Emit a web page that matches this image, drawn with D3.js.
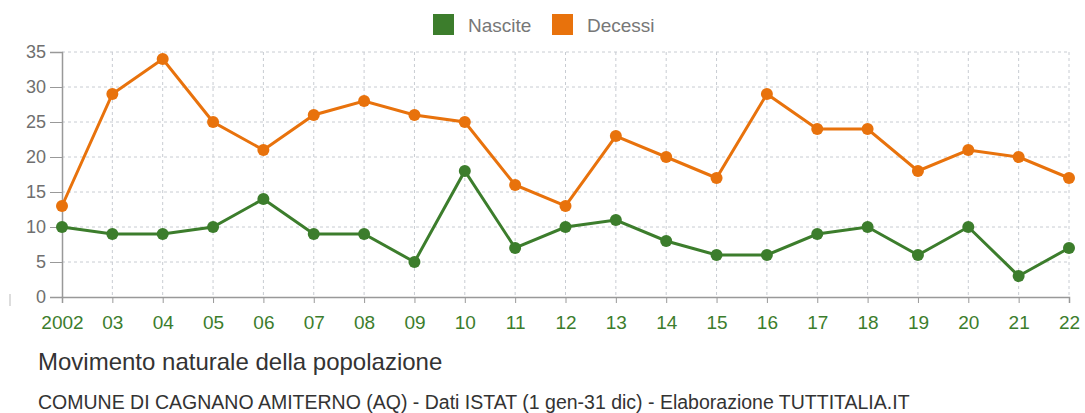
<!DOCTYPE html>
<html>
<head>
<meta charset="utf-8">
<script src="https://cdn.jsdelivr.net/npm/d3@7"></script>
<style>
  body { margin: 0; background: #fff; font-family: "Liberation Sans", Arial, sans-serif; }
</style>
</head>
<body>
<div id="chart"></div>
<script>
// Data
var years = ["2002", "03", "04", "05", "06", "07", "08", "09", "10", "11", "12",
    "13", "14", "15", "16", "17", "18", "19", "20", "21", "22"];
var nascite = [10, 9, 9, 10, 14, 9, 9, 5, 18, 7, 10, 11, 8, 6, 6, 9, 10, 6, 10, 3, 7];
var decessi = [13, 29, 34, 25, 21, 26, 28, 26, 25, 16, 13, 23, 20, 17, 29, 24, 24, 18, 21, 20, 17];
var yTicks = [0, 5, 10, 15, 20, 25, 30, 35];
var seriesNames = ["Nascite", "Decessi"];
var seriesColors = ["#3c7d2c", "#e8720c"];

var W = 1085, H = 413;
var margin = {top: 52, right: 16, bottom: 116, left: 62},
    width = W - margin.left - margin.right,
    height = H - margin.top - margin.bottom;

var svg = d3.select("#chart").append("svg")
    .attr("width", W)
    .attr("height", H);

var g = svg.append("g")
    .attr("transform", `translate(${margin.left},${margin.top})`);

var x = d3.scalePoint()
    .domain(years)
    .range([0, width]);

var y = d3.scaleLinear()
    .domain([0, 35])
    .range([height, 0]);

// Grid
g.append("g")
    .selectAll("line")
    .data(yTicks.filter(d => d > 0))
    .join("line")
    .attr("x1", 0)
    .attr("x2", width)
    .attr("y1", d => y(d))
    .attr("y2", d => y(d))
    .attr("stroke", "#c8ccd2")
    .attr("stroke-dasharray", "3,3");

g.append("g")
    .selectAll("line")
    .data(years.slice(1))
    .join("line")
    .attr("x1", d => x(d))
    .attr("x2", d => x(d))
    .attr("y1", 0)
    .attr("y2", height)
    .attr("stroke", "#c8ccd2")
    .attr("stroke-dasharray", "3,3");

// Y axis
var yAxis = g.append("g")
    .call(d3.axisLeft(y).tickValues(yTicks).tickSize(12).tickPadding(4));
yAxis.select(".domain").attr("stroke", "#999").attr("stroke-width", 1.5);
yAxis.selectAll(".tick line").attr("stroke", "#999");
yAxis.selectAll("text")
    .style("fill", "#6f6f6f")
    .style("font-size", "18px")
    .style("font-family", "Liberation Sans, Arial, sans-serif");

// X axis
var xAxis = g.append("g")
    .attr("transform", `translate(0,${height})`)
    .call(d3.axisBottom(x).tickSize(6).tickPadding(13));
xAxis.select(".domain").attr("stroke", "#999").attr("stroke-width", 1.5);
xAxis.selectAll(".tick line").attr("stroke", "#999");
xAxis.selectAll("text")
    .style("fill", "#3c7d2c")
    .style("font-size", "19px")
    .style("font-family", "Liberation Sans, Arial, sans-serif");

// small stray mark at the left, as in the original
svg.append("line")
    .attr("x1", 10).attr("x2", 10)
    .attr("y1", 294).attr("y2", 306)
    .attr("stroke", "#bbb");

// Lines
var series = [nascite, decessi];
series.forEach(function (vals, i) {
    var line = d3.line()
        .x((d, j) => x(years[j]))
        .y(d => y(d));

    g.append("path")
        .datum(vals)
        .attr("fill", "none")
        .attr("stroke", seriesColors[i])
        .attr("stroke-width", 3)
        .attr("d", line);

    g.selectAll(".dot" + i)
        .data(vals)
        .join("circle")
        .attr("class", "dot" + i)
        .attr("cx", (d, j) => x(years[j]))
        .attr("cy", d => y(d))
        .attr("r", 6)
        .attr("fill", seriesColors[i]);
});

// Legend
var legend = svg.append("g")
    .selectAll("g")
    .data(seriesNames)
    .join("g")
    .attr("transform", (d, i) => `translate(${433 + i * 119},14)`);

legend.append("rect")
    .attr("width", 21)
    .attr("height", 21)
    .attr("fill", (d, i) => seriesColors[i]);

legend.append("text")
    .attr("x", 35)
    .attr("y", 11)
    .attr("dy", "0.35em")
    .text(d => d)
    .style("fill", "#777")
    .style("font-size", "19px");

// Titles
svg.append("text")
    .attr("x", 38)
    .attr("y", 370)
    .text("Movimento naturale della popolazione")
    .style("fill", "#333")
    .style("font-size", "24px");

svg.append("text")
    .attr("x", 38)
    .attr("y", 409)
    .text("COMUNE DI CAGNANO AMITERNO (AQ) - Dati ISTAT (1 gen-31 dic) - Elaborazione TUTTITALIA.IT")
    .style("fill", "#333")
    .style("font-size", "19.5px");
</script>
</body>
</html>
